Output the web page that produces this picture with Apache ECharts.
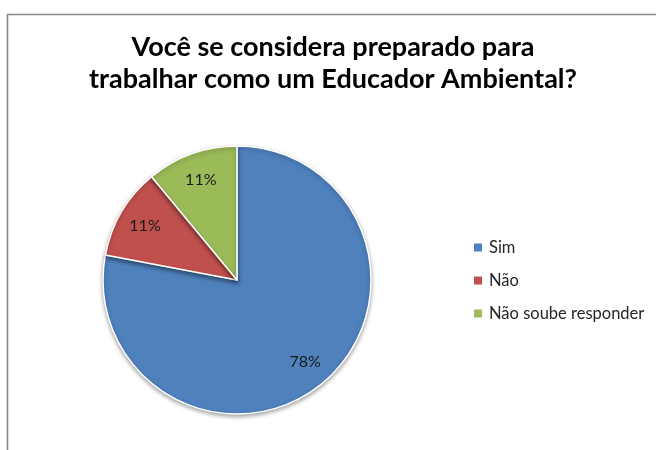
<!DOCTYPE html>
<html>
<head>
<meta charset="utf-8">
<script src="https://cdn.jsdelivr.net/npm/echarts@6/dist/echarts.min.js"></script>
<style>
  html, body { margin: 0; padding: 0; background: #fff; }
  #main { width: 656px; height: 450px; }
</style>
</head>
<body>
<div id="main"></div>
<script>
const categories = ['Sim', 'Não', 'Não soube responder'];
const values = [78, 11, 11];
const colors = ['#4F81BD', '#C0504D', '#9BBB59'];

const chart = echarts.init(document.getElementById('main'));

// pie geometry (px)
const cx = 237, cy = 280, r = 134;

const pieData = categories.map((name, i) => ({
  name: name,
  value: values[i],
  itemStyle: { color: colors[i] }
}));

chart.setOption({
  animation: false,
  title: {
    text: 'Você se considera preparado para\ntrabalhar como um Educador Ambiental?',
    left: 333,
    top: 31,
    padding: 0,
    textAlign: 'center',
    textStyle: {
      fontFamily: 'Lato',
      fontWeight: 'bold',
      fontSize: 27,
      lineHeight: 32,
      color: '#000'
    }
  },
  legend: {
    orient: 'vertical',
    left: 474,
    top: 239,
    padding: 0,
    itemWidth: 8,
    itemHeight: 8,
    itemGap: 16,
    icon: 'rect',
    selectedMode: false,
    itemStyle: { borderWidth: 0 },
    data: categories.map((name, i) => ({ name: name, itemStyle: { color: colors[i], borderWidth: 0 } })),
    textStyle: {
      fontFamily: 'Lato',
      fontSize: 16.5,
      lineHeight: 17,
      color: '#262626',
      padding: [0, 0, 0, 2]
    }
  },
  graphic: [{
    type: 'rect',
    shape: { x: 7.5, y: 14.5, width: 700, height: 500 },
    style: { fill: 'none', stroke: '#878787', lineWidth: 1.6 },
    silent: true,
    z: -1
  }],
  series: [
    {
      type: 'pie',
      center: [cx, cy],
      radius: [0, r],
      startAngle: 90,
      clockwise: true,
      label: { show: false },
      labelLine: { show: false },
      emphasis: { disabled: true },
      itemStyle: {
        borderColor: '#fff',
        borderWidth: 1.5,
        shadowBlur: 4,
        shadowOffsetY: 2,
        shadowColor: 'rgba(0,0,0,0.35)'
      },
      data: pieData
    },
    {
      // transparent copy, only used to place the percent labels further out
      type: 'pie',
      center: [cx, cy],
      radius: [0, r * 1.55],
      startAngle: 90,
      clockwise: true,
      silent: true,
      itemStyle: { color: 'transparent', borderWidth: 0 },
      label: {
        show: true,
        position: 'inside',
        formatter: '{d}%',
        fontFamily: 'Lato',
        fontSize: 16,
        color: '#1a1a1a'
      },
      labelLine: { show: false },
      emphasis: { disabled: true },
      data: categories.map((name, i) => ({ name: name, value: values[i] }))
    }
  ]
});
</script>
</body>
</html>
